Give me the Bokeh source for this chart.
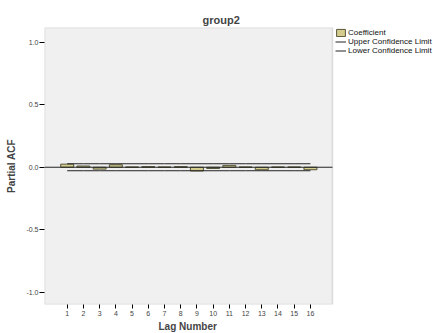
from bokeh.plotting import figure
from bokeh.models import Range1d, FixedTicker, Legend, LegendItem, BoxAnnotation, Title
from bokeh.embed import file_html
from bokeh.resources import INLINE

lags = list(range(1, 17))
coef = [0.025, 0.010, -0.015, 0.020, 0.002, 0.005, 0.002, 0.005,
        -0.030, -0.010, 0.015, 0.002, -0.020, 0.002, 0.002, -0.020]
upper = [0.028] * 16
lower = [-0.028] * 16
y_ticks = [-1.0, -0.5, 0.0, 0.5, 1.0]
y_labels = {-1.0: "-1.0", -0.5: "-0.5", 0.0: "0.0", 0.5: "0.5", 1.0: "1.0"}

FONT = "Liberation Sans"

# plot-area extent in data units; the frame extends further right to host the legend
X_START, X_END = -0.4, 17.36
Y_START, Y_END = -1.10, 1.12
FRAME_X_END = 23.59

p = figure(width=433, height=333, output_backend="svg", toolbar_location=None,
           x_range=Range1d(X_START, FRAME_X_END), y_range=Range1d(Y_START, Y_END),
           min_border_left=44, min_border_right=0, min_border_top=27, min_border_bottom=29)

p.background_fill_color = "white"
p.border_fill_color = "white"
p.outline_line_color = None
p.grid.visible = False

p.add_layout(BoxAnnotation(left=X_START, right=X_END, bottom=Y_START, top=Y_END,
                           fill_color="#F0F0F0", fill_alpha=1,
                           line_color="#999999", line_width=1.5, level="underlay"))

bars = p.vbar(x=lags, top=coef, bottom=0, width=0.8,
              fill_color="#D4CD8E", line_color="#55553A", line_width=1)
up = p.line(lags, upper, line_color="#222222", line_width=1)
lo = p.line(lags, lower, line_color="#222222", line_width=1)
p.segment(x0=[X_START], x1=[X_END], y0=[0], y1=[0], line_color="#222222", line_width=1)

p.title.text = "group2"
p.title.text_font = FONT
p.title.text_font_size = "11px"
p.title.text_font_style = "bold"
p.title.align = "left"
p.title.offset = 158
p.title.standoff = 3

xa = p.xaxis[0]
xa.ticker = FixedTicker(ticks=lags)
xa.axis_line_color = None
xa.major_tick_out = 4
xa.major_tick_in = 0
xa.minor_tick_line_color = None
xa.major_label_standoff = 2
xa.major_label_text_font = FONT
xa.major_label_text_font_size = "7px"
xa.major_label_text_color = "#444444"

p.add_layout(Title(text="Lag Number", align="left", offset=114, standoff=0,
                   text_font=FONT, text_font_size="10px", text_font_style="bold"), "below")

ya = p.yaxis[0]
ya.ticker = FixedTicker(ticks=y_ticks)
ya.major_label_overrides = y_labels
ya.axis_label = "Partial ACF"
ya.axis_line_color = None
ya.major_tick_out = 5
ya.major_tick_in = 0
ya.minor_tick_line_color = None
ya.major_label_standoff = 1
ya.axis_label_standoff = 6
ya.major_label_text_font = FONT
ya.major_label_text_font_size = "7px"
ya.major_label_text_color = "#444444"
ya.axis_label_text_font = FONT
ya.axis_label_text_font_size = "10px"
ya.axis_label_text_font_style = "bold"

legend = Legend(items=[LegendItem(label="Coefficient", renderers=[bars]),
                       LegendItem(label="Upper Confidence Limit", renderers=[up]),
                       LegendItem(label="Lower Confidence Limit", renderers=[lo])],
                location=(291, 249), margin=0, padding=0, spacing=0,
                glyph_width=11, glyph_height=9, label_height=9, label_standoff=2,
                label_text_font=FONT, label_text_font_size="8px", label_text_color="#111111",
                border_line_color=None, background_fill_alpha=0)
p.add_layout(legend, "center")

open("out.html", "w").write(file_html(p, INLINE))
